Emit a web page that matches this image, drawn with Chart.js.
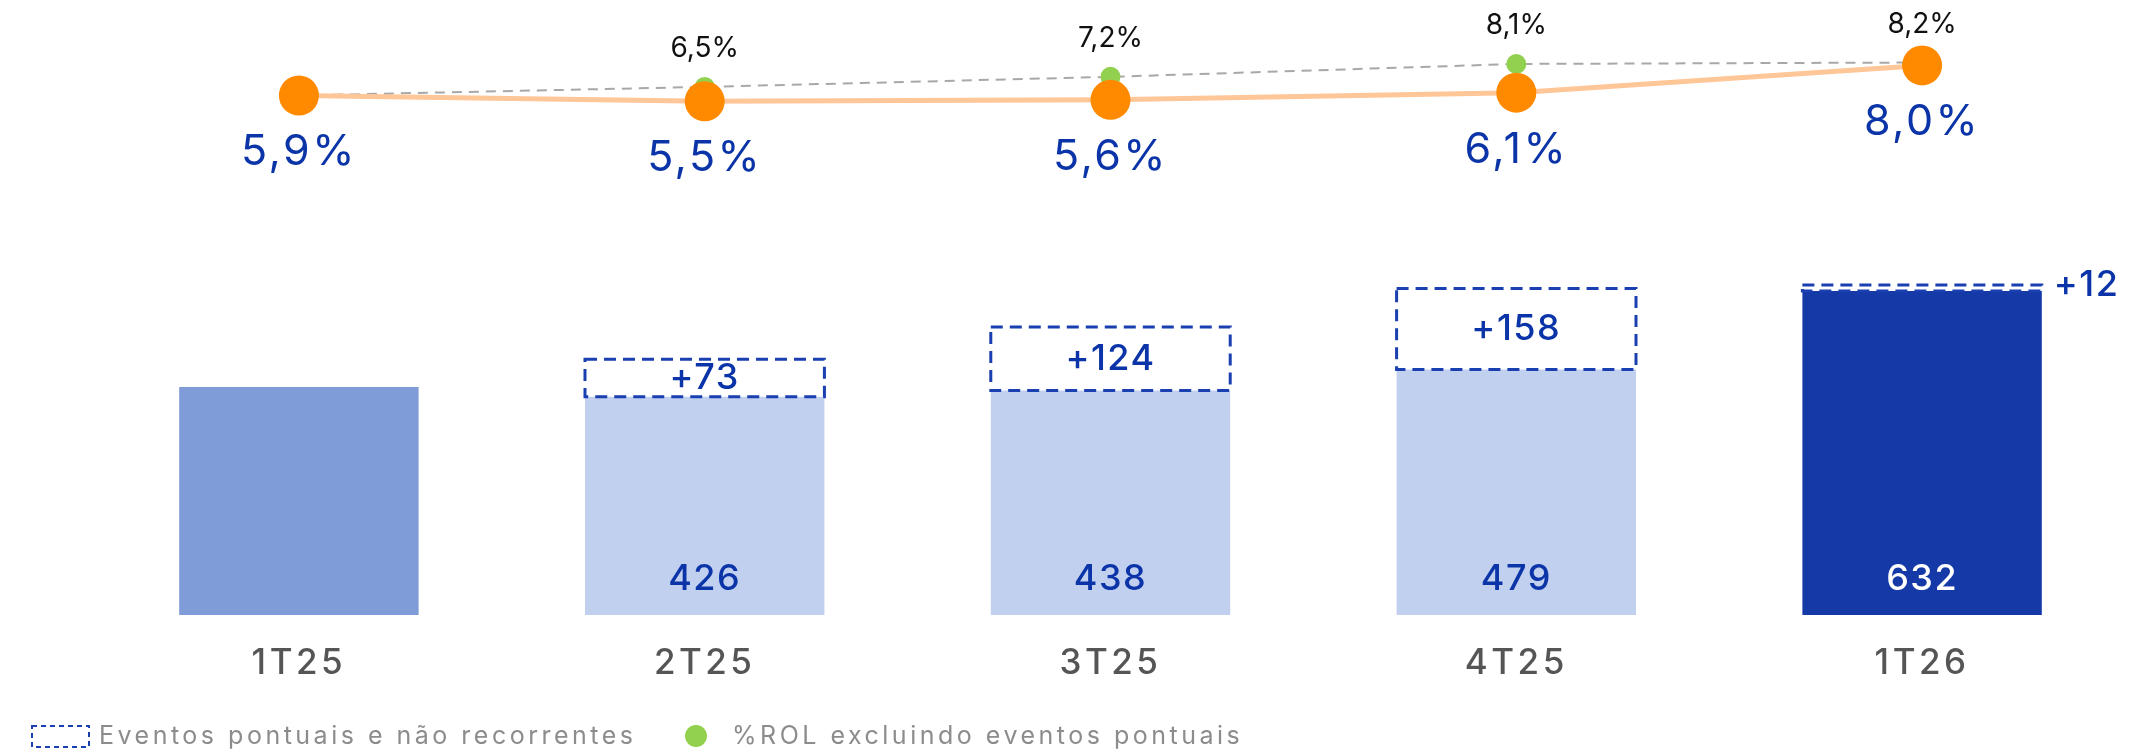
<!DOCTYPE html>
<html>
<head>
<meta charset="utf-8">
<script src="https://cdn.jsdelivr.net/npm/chart.js@4.4.0/dist/chart.umd.min.js"></script>
<style>
  html, body { margin: 0; padding: 0; background: #fff; }
  #wrap { width: 2133px; height: 755px; position: relative; }
</style>
</head>
<body>
<div id="wrap"><canvas id="despesasChart"></canvas></div>
<script>
// dados do gráfico
const categorias = ['1T25', '2T25', '3T25', '4T25', '1T26'];
const valoresBase = [445, 426, 438, 479, 632];
const eventosPontuais = [0, 73, 124, 158, 12];
const percentualRol = [5.9, 5.5, 5.6, 6.1, 8.0];
const percentualExcluindo = [5.9, 6.5, 7.2, 8.1, 8.2];

const coresBarras = ['#7f9bd8', '#c1d0ef', '#c1d0ef', '#c1d0ef', '#1639a8'];
const azulTexto = '#0b34a8';
const fonte = 'Inter, "DejaVu Sans", sans-serif';

const fmtPct = v => v.toFixed(1).replace('.', ',') + '%';

// Plugin: caixas tracejadas, rótulos e legenda
const rotulos = {
  id: 'rotulos',
  beforeDraw(chart) {
    // a fonte original é mais larga, então espaçamos as letras dos ticks
    chart.ctx.letterSpacing = '3.5px';
  },
  afterDatasetsDraw(chart) {
    const { ctx } = chart;
    const metaLaranja = chart.getDatasetMeta(0);
    const metaVerde = chart.getDatasetMeta(1);
    const metaBase = chart.getDatasetMeta(2);
    const metaEventos = chart.getDatasetMeta(3);

    ctx.save();
    // caixas de eventos pontuais
    ctx.strokeStyle = '#1a3fb0';
    ctx.lineWidth = 3;
    ctx.setLineDash([12, 7]);
    metaEventos.data.forEach((bar, i) => {
      if (!eventosPontuais[i]) return;
      ctx.strokeRect(bar.x - bar.width / 2, bar.y, bar.width, bar.base - bar.y);
    });
    ctx.setLineDash([]);

    ctx.textBaseline = 'middle';
    ctx.letterSpacing = '1.5px';
    ctx.font = '500 36px ' + fonte;
    ctx.fillStyle = azulTexto;
    metaEventos.data.forEach((bar, i) => {
      if (!eventosPontuais[i]) return;
      const txt = '+' + eventosPontuais[i];
      if (i === categorias.length - 1) {
        ctx.textAlign = 'left';
        ctx.fillText(txt, bar.x + bar.width / 2 + 12, bar.y);
      } else {
        ctx.textAlign = 'center';
        ctx.fillText(txt, bar.x, (bar.y + bar.base) / 2);
      }
    });

    // valores das barras
    ctx.textAlign = 'center';
    metaBase.data.forEach((bar, i) => {
      if (i === 0) return;
      ctx.fillStyle = i === categorias.length - 1 ? '#ffffff' : azulTexto;
      ctx.fillText(String(valoresBase[i]), bar.x, bar.base - 36);
    });

    // % ROL
    ctx.letterSpacing = '2.5px';
    ctx.font = '43px ' + fonte;
    ctx.fillStyle = azulTexto;
    metaLaranja.data.forEach((pt, i) => {
      ctx.fillText(fmtPct(percentualRol[i]), pt.x, pt.y + 57);
    });

    // % ROL excluindo eventos
    ctx.letterSpacing = '0px';
    ctx.font = '28px ' + fonte;
    ctx.fillStyle = '#111';
    metaVerde.data.forEach((pt, i) => {
      if (i === 0) return;
      ctx.fillText(fmtPct(percentualExcluindo[i]), pt.x, pt.y - 38);
    });
    ctx.restore();
  },
  afterDraw(chart) {
    const { ctx } = chart;
    const y = 736;
    ctx.save();
    ctx.strokeStyle = '#1a3fb0';
    ctx.lineWidth = 2;
    ctx.setLineDash([5, 4]);
    ctx.strokeRect(32, 726, 57, 21);
    ctx.setLineDash([]);
    ctx.letterSpacing = '3.5px';
    ctx.font = '25px ' + fonte;
    ctx.fillStyle = '#8c8c8c';
    ctx.textBaseline = 'middle';
    ctx.textAlign = 'left';
    ctx.fillText('Eventos pontuais e não recorrentes', 99, y);
    ctx.fillStyle = '#92d050';
    ctx.beginPath();
    ctx.arc(696, y, 11, 0, Math.PI * 2);
    ctx.fill();
    ctx.fillStyle = '#8c8c8c';
    ctx.fillText('%ROL excluindo eventos pontuais', 732, y);
    ctx.restore();
    ctx.letterSpacing = '0px';
  }
};

const ctx = document.getElementById('despesasChart').getContext('2d');
new Chart(ctx, {
  type: 'bar',
  data: {
    labels: categorias,
    datasets: [
      {
        type: 'line',
        label: '%ROL',
        data: percentualRol,
        yAxisID: 'yL',
        borderColor: '#ffc698',
        borderWidth: 5,
        pointRadius: 20,
        pointBackgroundColor: '#ff8a00',
        pointBorderWidth: 0,
        order: 0
      },
      {
        type: 'line',
        label: '%ROL excluindo eventos pontuais',
        data: percentualExcluindo,
        yAxisID: 'yL',
        borderColor: '#a8a8a8',
        borderWidth: 2,
        borderDash: [10, 7],
        pointRadius: [0, 10, 10, 10, 10],
        pointBackgroundColor: '#92d050',
        pointBorderWidth: 0,
        order: 1
      },
      {
        label: 'Base',
        data: valoresBase,
        backgroundColor: coresBarras,
        stack: 's',
        order: 2
      },
      {
        label: 'Eventos pontuais e não recorrentes',
        data: eventosPontuais,
        backgroundColor: 'rgba(255,255,255,0)',
        stack: 's',
        order: 2
      }
    ]
  },
  options: {
    responsive: true,
    maintainAspectRatio: false,
    animation: false,
    layout: { autoPadding: false, padding: { top: 0, left: 96, right: 8, bottom: 44 } },
    datasets: { bar: { categoryPercentage: 1, barPercentage: 0.59 } },
    plugins: {
      legend: { display: false },
      tooltip: { enabled: false }
    },
    scales: {
      x: {
        stacked: true,
        grid: { display: false, drawTicks: false },
        border: { display: false },
        ticks: {
          padding: 27,
          color: '#555',
          font: { family: fonte, size: 35, weight: '500', lineHeight: 1.2 }
        }
      },
      y: {
        stacked: true,
        display: false,
        min: 0,
        max: 1200
      },
      yL: {
        display: false,
        min: -30.33,
        max: 12.56
      }
    }
  },
  plugins: [rotulos]
});
</script>
</body>
</html>
